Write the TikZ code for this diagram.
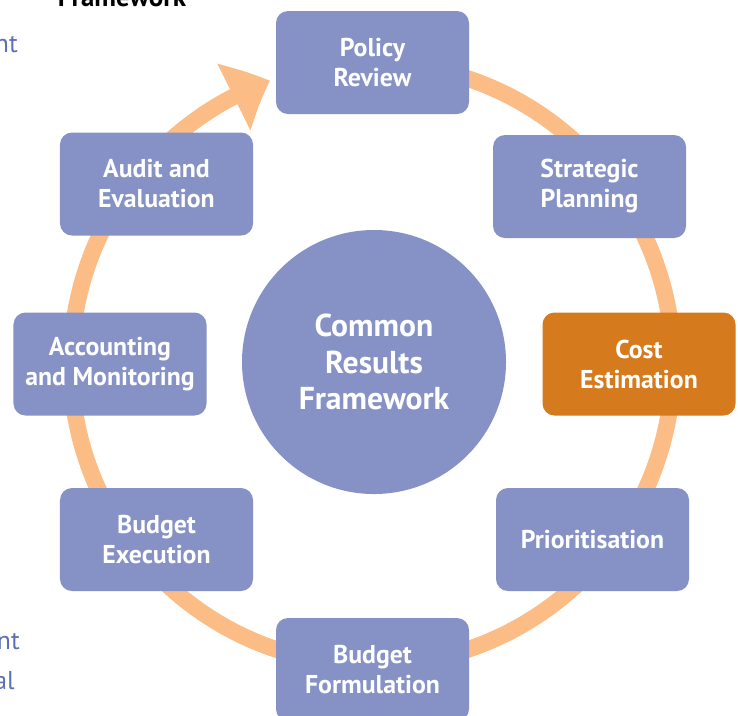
\documentclass[tikz,border=0pt]{standalone}
\usepackage{fontspec}
\setmainfont{PT Sans}
\usepackage{tikz}
\usetikzlibrary{arrows.meta,bending}
\definecolor{crf-blue}{HTML}{8692C5}
\definecolor{crf-ring}{HTML}{FBBC86}
\definecolor{crf-orange}{HTML}{D57A1D}
\definecolor{crf-text}{HTML}{5D6FB5}

\begin{document}
\begin{tikzpicture}[x=0.03cm, y=-0.03cm,
    stage/.style={fill=crf-blue, rounded corners=0.36cm, minimum width=5.79cm, minimum height=3.09cm,
        align=center, text=white, font=\bfseries\fontsize{22}{25.6}\selectfont},
    hub/.style={circle, fill=crf-blue, minimum size=7.92cm, align=center, text=white,
        font=\bfseries\fontsize{27}{31.5}\selectfont},
    side/.style={inner sep=0pt, anchor=base east, text=crf-text, font=\fontsize{22}{26}\selectfont}]
    \useasboundingbox (0,0) rectangle (738,715);

    % text of the page around the figure
    \node[inner sep=0pt, anchor=base, font=\bfseries\fontsize{23}{27}\selectfont] (title) at (122,6) {Framework};
    \node[side] (s1) at (18,52) {nt};
    \node[side] (s2) at (20,649) {nt};
    \node[side] (s3) at (15,689) {al};

    % the cycle, ending in an arrow at the first stage
    \coordinate (C) at (372,364);
    \draw[crf-ring, line width=0.5cm, -{Triangle[width=2.15cm, length=1.2cm, bend]}]
        ([shift={(85:9.03cm)}]C) arc[start angle=85, end angle=-250.2, radius=9.03cm];

    \node[hub] (CRF) at (374,362) {Common\\Results\\Framework};

    \node[stage] (PR) at (372.5,62.5) {Policy\\Review};
    \node[stage] (SP) at (589.5,186.5) {Strategic\\Planning};
    \node[stage, fill=crf-orange] (CE) at (639,364) {Cost\\Estimation};
    \node[stage] (PO) at (592.5,539.5) {Prioritisation};
    \node[stage] (BF) at (372.5,669.5) {Budget\\Formulation};
    \node[stage] (BE) at (156.5,539.5) {Budget\\Execution};
    \node[stage] (AM) at (110,364) {Accounting\\and Monitoring};
    \node[stage] (AE) at (156.5,184) {Audit and\\Evaluation};
\end{tikzpicture}
\end{document}
